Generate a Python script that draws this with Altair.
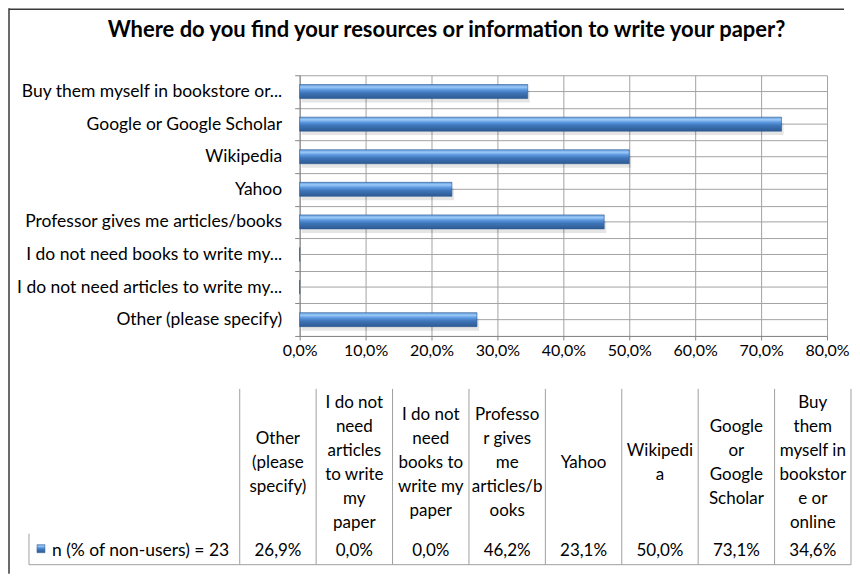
import altair as alt
import pandas as pd

# ---------------- data ----------------
title_text = "Where do you find your resources or information to write your paper?"
series_name = "n (% of non-users) = 23"

categories = [
    "Other (please specify)",
    "I do not need articles to write my paper",
    "I do not need books to write my paper",
    "Professor gives me articles/books",
    "Yahoo",
    "Wikipedia",
    "Google or Google Scholar",
    "Buy them myself in bookstore or online",
]
axis_labels = [
    "Other (please specify)",
    "I do not need articles to write my...",
    "I do not need books to write my...",
    "Professor gives me articles/books",
    "Yahoo",
    "Wikipedia",
    "Google or Google Scholar",
    "Buy them myself in bookstore or...",
]
table_headers = [
    "Other\n(please\nspecify)",
    "I do not\nneed\narticles\nto write\nmy\npaper",
    "I do not\nneed\nbooks to\nwrite my\npaper",
    "Professo\nr gives\nme\narticles/b\nooks",
    "Yahoo",
    "Wikipedi\na",
    "Google\nor\nGoogle\nScholar",
    "Buy\nthem\nmyself in\nbookstor\ne or\nonline",
]
values = [26.9, 0.0, 0.0, 46.2, 23.1, 50.0, 73.1, 34.6]
x_ticks = [0, 10, 20, 30, 40, 50, 60, 70, 80]

# ---------------- styling ----------------
FONT = "Lato"
GRID = "#a3a3a3"
AXIS = "#868686"
TABLE_LINE = "#a0a0a0"
LINE_H = 24

bar_fill = alt.Gradient(
    gradient="linear",
    stops=[
        alt.GradientStop(color="#5f98dc", offset=0),
        alt.GradientStop(color="#9ccaf8", offset=0.18),
        alt.GradientStop(color="#5b97de", offset=0.38),
        alt.GradientStop(color="#3f75b9", offset=0.6),
        alt.GradientStop(color="#2d5a92", offset=1),
    ],
    x1=0, x2=0, y1=0, y2=1,
)

bars_df = pd.DataFrame({"label": axis_labels, "value": values, "full": categories})
y_order = list(reversed(axis_labels))

y_scale = alt.Scale(paddingInner=0, paddingOuter=0)
x_scale = alt.Scale(domain=[0, 80], nice=False, zero=True)

y_enc = alt.Y(
    "label:N",
    sort=y_order,
    scale=y_scale,
    title=None,
    axis=alt.Axis(
        grid=True,
        gridColor=GRID,
        tickBand="extent",
        ticks=True,
        tickSize=5,
        tickColor=AXIS,
        domainColor=AXIS,
        labelFont=FONT,
        labelFontSize=17.5,
        labelColor="#000000",
        labelPadding=13,
        labelLimit=400,
    ),
)
x_enc = alt.X(
    "value:Q",
    scale=x_scale,
    title=None,
    axis=alt.Axis(
        values=x_ticks,
        labelExpr="replace(format(datum.value, '.1f'), '.', ',') + '%'",
        grid=True,
        gridColor=GRID,
        tickSize=4,
        tickColor=AXIS,
        domainColor=AXIS,
        labelFont=FONT,
        labelFontSize=16,
        labelColor="#000000",
        labelPadding=3,
        labelFlush=False,
    ),
)

base = alt.Chart(bars_df)

center_grid = base.mark_rule(color=GRID, strokeWidth=1).encode(
    y=alt.Y("label:N", sort=y_order, scale=y_scale, bandPosition=0.5, title=None),
    x=alt.datum(0),
    x2=alt.datum(80),
)
shadow = base.mark_bar(size=12, yOffset=5, xOffset=2, fill="#000000", opacity=0.10).encode(
    y=y_enc, x=x_enc
)
bars = base.mark_bar(size=14, fill=bar_fill, stroke="#2b5a90", strokeWidth=0.6).encode(
    y=y_enc, x=x_enc, tooltip=["full:N", "value:Q"]
)
bar_group = alt.layer(center_grid, shadow, bars)

# ---------------- data table below ----------------
table_df = pd.DataFrame(
    {
        "col": [i + 0.5 for i in range(len(categories))],
        "header": table_headers,
        # first-line shift (in line units) so each wrapped header is vertically centred
        "shift": [-(h.count("\n")) / 2 for h in table_headers],
        "val": [f"{v:.1f}".replace(".", ",") + "%" for v in values],
    }
)
bounds_df = pd.DataFrame({"b": list(range(len(categories) + 1))})
tx = alt.Scale(domain=[0, len(categories)], range=[-60, 552], nice=False, zero=False)
ty = alt.Scale(domain=[0, 1], range=[388, 388 + LINE_H], nice=False, zero=False)

one = pd.DataFrame({"name": [series_name], "title": [title_text]})

col_lines = alt.Chart(bounds_df).mark_rule(color=TABLE_LINE, strokeWidth=1).encode(
    x=alt.X("b:Q", scale=tx, axis=None), y=alt.value(314), y2=alt.value(490)
)
bottom_line = alt.Chart(one).mark_rule(color=TABLE_LINE, strokeWidth=1).encode(
    x=alt.value(-271), x2=alt.value(552), y=alt.value(490)
)
rowhead_left = alt.Chart(one).mark_rule(color=TABLE_LINE, strokeWidth=1).encode(
    x=alt.value(-271), y=alt.value(459), y2=alt.value(490)
)
legend_key = alt.Chart(one).mark_square(size=64, fill=bar_fill, stroke="#2b5a90", strokeWidth=0.5, opacity=1).encode(
    x=alt.value(-259), y=alt.value(474)
)
row_text = alt.Chart(one).mark_text(align="left", baseline="middle", font=FONT, fontSize=17.5, color="#000000").encode(
    x=alt.value(-248), y=alt.value(476), text="name:N"
)
header_text = alt.Chart(table_df).mark_text(
    align="center", baseline="middle", font=FONT, fontSize=17, lineBreak="\n", lineHeight=LINE_H, color="#000000"
).encode(
    x=alt.X("col:Q", scale=tx, axis=None),
    y=alt.Y("shift:Q", scale=ty, axis=None),
    text="header:N",
)
value_text = alt.Chart(table_df).mark_text(
    align="center", baseline="middle", font=FONT, fontSize=17, color="#000000"
).encode(x=alt.X("col:Q", scale=tx, axis=None), y=alt.value(476), text="val:N")

title_mark = alt.Chart(one).mark_text(
    align="center", baseline="middle", font=FONT, fontSize=22, fontWeight="bold", color="#000000"
).encode(x=alt.value(147), y=alt.value(-45), text="title:N")

frame_left = alt.Chart(one).mark_rule(color="#3a3a3a", strokeWidth=1.5).encode(
    x=alt.value(-291), y=alt.value(-67), y2=alt.value(499)
)
frame_top = alt.Chart(one).mark_rule(color="#3a3a3a", strokeWidth=1.5).encode(
    x=alt.value(-291), x2=alt.value(545), y=alt.value(-66.2)
)

table_group = alt.layer(
    col_lines, bottom_line, rowhead_left, legend_key, row_text, header_text, value_text,
    title_mark, frame_left, frame_top,
)

chart = (
    alt.layer(bar_group, table_group)
    .resolve_scale(x="independent", y="independent")
    .properties(
        width=528,
        height=261,
        autosize=alt.AutoSizeParams(type="none"),
        padding={"left": 292, "top": 67, "right": 25, "bottom": 238},
        background="#ffffff",
    )
    .configure_view(stroke=None)
)

chart.save("out.html", embed_options={"renderer": "svg", "actions": False})
